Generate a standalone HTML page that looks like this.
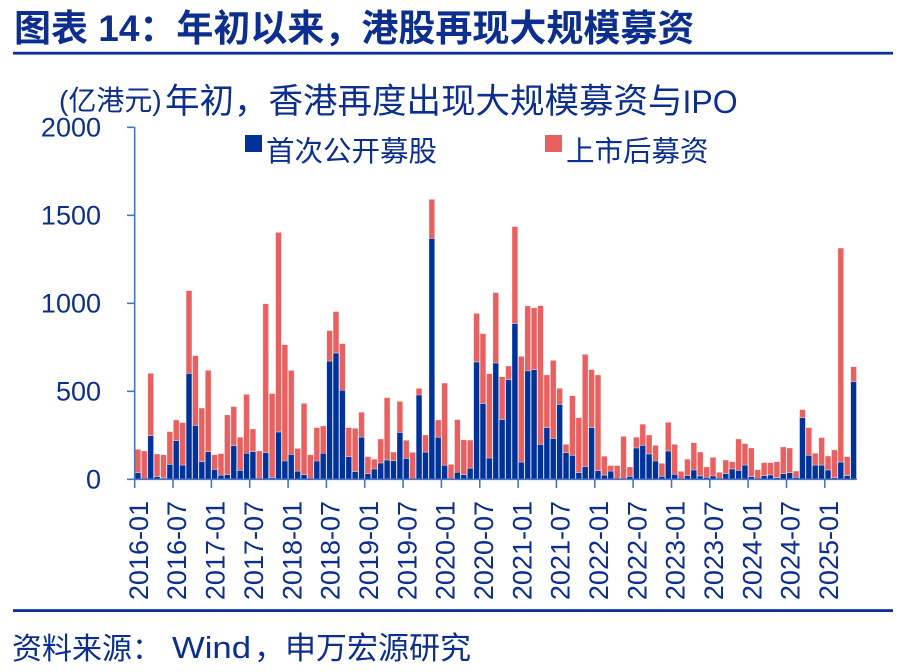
<!DOCTYPE html>
<html><head><meta charset="utf-8"><style>
html,body{margin:0;padding:0;background:#fff}
svg{display:block}
text{font-family:"Liberation Sans","Noto Sans CJK SC",sans-serif;fill:#0c2f8f}
.b{fill:#00329a}
.r{fill:#e86160}
.bars rect{stroke:#fff;stroke-opacity:.55;stroke-width:.6;vector-effect:non-scaling-stroke}
</style></head><body>
<svg width="906" height="672" viewBox="0 0 906 672" xmlns="http://www.w3.org/2000/svg">
<rect width="906" height="672" fill="#fff"/>
<text x="14" y="41" font-size="37" font-weight="bold">图表 14：年初以来，港股再现大规模募资</text>
<rect x="13" y="51.8" width="880" height="2.8" fill="#0a3296"/>
<text x="59" y="110" font-size="28">(亿港元)</text>
<text x="165" y="113" font-size="34.5">年初，香港再度出现大规模募资与<tspan font-size="32">IPO</tspan></text>
<rect x="245" y="135" width="17" height="17" fill="#00329a"/>
<text x="266" y="161" font-size="28.5">首次公开募股</text>
<rect x="545" y="135" width="17" height="17" fill="#e86160"/>
<text x="566" y="161" font-size="28.5">上市后募资</text>
<g font-size="27" text-anchor="end">
<text x="101" y="136.3">2000</text>
<text x="101" y="224.3">1500</text>
<text x="101" y="312.3">1000</text>
<text x="101" y="400.3">500</text>
<text x="101" y="488.3">0</text>
</g>
<g class="bars" transform="translate(135,479.3) scale(6.39,-0.176)">
<rect class="b" x="0" y="0" width=".908" height="38"/><rect class="r" x="0" y="38" width=".908" height="132"/>
<rect class="b" x="1" y="0" width=".908" height="2"/><rect class="r" x="1" y="2" width=".908" height="159"/>
<rect class="b" x="2" y="0" width=".908" height="248"/><rect class="r" x="2" y="248" width=".908" height="354"/>
<rect class="b" x="3" y="0" width=".908" height="15"/><rect class="r" x="3" y="15" width=".908" height="129"/>
<rect class="b" x="4" y="0" width=".908" height="8"/><rect class="r" x="4" y="8" width=".908" height="132"/>
<rect class="b" x="5" y="0" width=".908" height="85"/><rect class="r" x="5" y="85" width=".908" height="186"/>
<rect class="b" x="6" y="0" width=".908" height="220"/><rect class="r" x="6" y="220" width=".908" height="117"/>
<rect class="b" x="7" y="0" width=".908" height="81"/><rect class="r" x="7" y="81" width=".908" height="241"/>
<rect class="b" x="8" y="0" width=".908" height="602"/><rect class="r" x="8" y="602" width=".908" height="470"/>
<rect class="b" x="9" y="0" width=".908" height="307"/><rect class="r" x="9" y="307" width=".908" height="396"/>
<rect class="b" x="10" y="0" width=".908" height="100"/><rect class="r" x="10" y="100" width=".908" height="305"/>
<rect class="b" x="11" y="0" width=".908" height="157"/><rect class="r" x="11" y="157" width=".908" height="462"/>
<rect class="b" x="12" y="0" width=".908" height="57"/><rect class="r" x="12" y="57" width=".908" height="83"/>
<rect class="b" x="13" y="0" width=".908" height="23"/><rect class="r" x="13" y="23" width=".908" height="123"/>
<rect class="b" x="14" y="0" width=".908" height="27"/><rect class="r" x="14" y="27" width=".908" height="339"/>
<rect class="b" x="15" y="0" width=".908" height="191"/><rect class="r" x="15" y="191" width=".908" height="222"/>
<rect class="b" x="16" y="0" width=".908" height="51"/><rect class="r" x="16" y="51" width=".908" height="188"/>
<rect class="b" x="17" y="0" width=".908" height="148"/><rect class="r" x="17" y="148" width=".908" height="335"/>
<rect class="b" x="18" y="0" width=".908" height="157"/><rect class="r" x="18" y="157" width=".908" height="129"/>
<rect class="r" x="19" y="0" width=".908" height="161"/>
<rect class="b" x="20" y="0" width=".908" height="152"/><rect class="r" x="20" y="152" width=".908" height="846"/>
<rect class="b" x="21" y="0" width=".908" height="10"/><rect class="r" x="21" y="10" width=".908" height="477"/>
<rect class="b" x="22" y="0" width=".908" height="269"/><rect class="r" x="22" y="269" width=".908" height="1134"/>
<rect class="b" x="23" y="0" width=".908" height="104"/><rect class="r" x="23" y="104" width=".908" height="661"/>
<rect class="b" x="24" y="0" width=".908" height="142"/><rect class="r" x="24" y="142" width=".908" height="477"/>
<rect class="b" x="25" y="0" width=".908" height="47"/><rect class="r" x="25" y="47" width=".908" height="129"/>
<rect class="b" x="26" y="0" width=".908" height="27"/><rect class="r" x="26" y="27" width=".908" height="405"/>
<rect class="r" x="27" y="0" width=".908" height="140"/>
<rect class="b" x="28" y="0" width=".908" height="104"/><rect class="r" x="28" y="104" width=".908" height="190"/>
<rect class="b" x="29" y="0" width=".908" height="148"/><rect class="r" x="29" y="148" width=".908" height="155"/>
<rect class="b" x="30" y="0" width=".908" height="672"/><rect class="r" x="30" y="672" width=".908" height="173"/>
<rect class="b" x="31" y="0" width=".908" height="718"/><rect class="r" x="31" y="718" width=".908" height="235"/>
<rect class="b" x="32" y="0" width=".908" height="506"/><rect class="r" x="32" y="506" width=".908" height="265"/>
<rect class="b" x="33" y="0" width=".908" height="129"/><rect class="r" x="33" y="129" width=".908" height="165"/>
<rect class="b" x="34" y="0" width=".908" height="44"/><rect class="r" x="34" y="44" width=".908" height="246"/>
<rect class="b" x="35" y="0" width=".908" height="240"/><rect class="r" x="35" y="240" width=".908" height="141"/>
<rect class="b" x="36" y="0" width=".908" height="32"/><rect class="r" x="36" y="32" width=".908" height="97"/>
<rect class="b" x="37" y="0" width=".908" height="59"/><rect class="r" x="37" y="59" width=".908" height="55"/>
<rect class="b" x="38" y="0" width=".908" height="93"/><rect class="r" x="38" y="93" width=".908" height="136"/>
<rect class="b" x="39" y="0" width=".908" height="110"/><rect class="r" x="39" y="110" width=".908" height="354"/>
<rect class="b" x="40" y="0" width=".908" height="106"/><rect class="r" x="40" y="106" width=".908" height="49"/>
<rect class="b" x="41" y="0" width=".908" height="267"/><rect class="r" x="41" y="267" width=".908" height="176"/>
<rect class="b" x="42" y="0" width=".908" height="119"/><rect class="r" x="42" y="119" width=".908" height="103"/>
<rect class="r" x="43" y="0" width=".908" height="153"/>
<rect class="b" x="44" y="0" width=".908" height="479"/><rect class="r" x="44" y="479" width=".908" height="38"/>
<rect class="b" x="45" y="0" width=".908" height="155"/><rect class="r" x="45" y="155" width=".908" height="97"/>
<rect class="b" x="46" y="0" width=".908" height="1369"/><rect class="r" x="46" y="1369" width=".908" height="222"/>
<rect class="b" x="47" y="0" width=".908" height="239"/><rect class="r" x="47" y="239" width=".908" height="98"/>
<rect class="b" x="48" y="0" width=".908" height="80"/><rect class="r" x="48" y="80" width=".908" height="467"/>
<rect class="r" x="49" y="0" width=".908" height="85"/>
<rect class="b" x="50" y="0" width=".908" height="40"/><rect class="r" x="50" y="40" width=".908" height="299"/>
<rect class="b" x="51" y="0" width=".908" height="27"/><rect class="r" x="51" y="27" width=".908" height="198"/>
<rect class="b" x="52" y="0" width=".908" height="63"/><rect class="r" x="52" y="63" width=".908" height="160"/>
<rect class="b" x="53" y="0" width=".908" height="667"/><rect class="r" x="53" y="667" width=".908" height="276"/>
<rect class="b" x="54" y="0" width=".908" height="430"/><rect class="r" x="54" y="430" width=".908" height="398"/>
<rect class="b" x="55" y="0" width=".908" height="121"/><rect class="r" x="55" y="121" width=".908" height="479"/>
<rect class="b" x="56" y="0" width=".908" height="661"/><rect class="r" x="56" y="661" width=".908" height="400"/>
<rect class="b" x="57" y="0" width=".908" height="339"/><rect class="r" x="57" y="339" width=".908" height="244"/>
<rect class="b" x="58" y="0" width=".908" height="566"/><rect class="r" x="58" y="566" width=".908" height="78"/>
<rect class="b" x="59" y="0" width=".908" height="885"/><rect class="r" x="59" y="885" width=".908" height="551"/>
<rect class="b" x="60" y="0" width=".908" height="98"/><rect class="r" x="60" y="98" width=".908" height="601"/>
<rect class="b" x="61" y="0" width=".908" height="616"/><rect class="r" x="61" y="616" width=".908" height="369"/>
<rect class="b" x="62" y="0" width=".908" height="623"/><rect class="r" x="62" y="623" width=".908" height="351"/>
<rect class="b" x="63" y="0" width=".908" height="199"/><rect class="r" x="63" y="199" width=".908" height="788"/>
<rect class="b" x="64" y="0" width=".908" height="294"/><rect class="r" x="64" y="294" width=".908" height="299"/>
<rect class="b" x="65" y="0" width=".908" height="233"/><rect class="r" x="65" y="233" width=".908" height="443"/>
<rect class="b" x="66" y="0" width=".908" height="426"/><rect class="r" x="66" y="426" width=".908" height="91"/>
<rect class="b" x="67" y="0" width=".908" height="152"/><rect class="r" x="67" y="152" width=".908" height="47"/>
<rect class="b" x="68" y="0" width=".908" height="136"/><rect class="r" x="68" y="136" width=".908" height="339"/>
<rect class="b" x="69" y="0" width=".908" height="38"/><rect class="r" x="69" y="38" width=".908" height="312"/>
<rect class="b" x="70" y="0" width=".908" height="72"/><rect class="r" x="70" y="72" width=".908" height="638"/>
<rect class="b" x="71" y="0" width=".908" height="294"/><rect class="r" x="71" y="294" width=".908" height="329"/>
<rect class="b" x="72" y="0" width=".908" height="49"/><rect class="r" x="72" y="49" width=".908" height="544"/>
<rect class="b" x="73" y="0" width=".908" height="24"/><rect class="r" x="73" y="24" width=".908" height="107"/>
<rect class="b" x="74" y="0" width=".908" height="47"/><rect class="r" x="74" y="47" width=".908" height="31"/>
<rect class="r" x="75" y="0" width=".908" height="78"/>
<rect class="r" x="76" y="0" width=".908" height="244"/>
<rect class="b" x="77" y="0" width=".908" height="17"/><rect class="r" x="77" y="17" width=".908" height="53"/>
<rect class="b" x="78" y="0" width=".908" height="178"/><rect class="r" x="78" y="178" width=".908" height="61"/>
<rect class="b" x="79" y="0" width=".908" height="193"/><rect class="r" x="79" y="193" width=".908" height="120"/>
<rect class="b" x="80" y="0" width=".908" height="144"/><rect class="r" x="80" y="144" width=".908" height="108"/>
<rect class="b" x="81" y="0" width=".908" height="104"/><rect class="r" x="81" y="104" width=".908" height="89"/>
<rect class="b" x="82" y="0" width=".908" height="17"/><rect class="r" x="82" y="17" width=".908" height="74"/>
<rect class="b" x="83" y="0" width=".908" height="161"/><rect class="r" x="83" y="161" width=".908" height="163"/>
<rect class="b" x="84" y="0" width=".908" height="28"/><rect class="r" x="84" y="28" width=".908" height="171"/>
<rect class="r" x="85" y="0" width=".908" height="45"/>
<rect class="b" x="86" y="0" width=".908" height="21"/><rect class="r" x="86" y="21" width=".908" height="93"/>
<rect class="b" x="87" y="0" width=".908" height="53"/><rect class="r" x="87" y="53" width=".908" height="155"/>
<rect class="b" x="88" y="0" width=".908" height="19"/><rect class="r" x="88" y="19" width=".908" height="136"/>
<rect class="b" x="89" y="0" width=".908" height="11"/><rect class="r" x="89" y="11" width=".908" height="59"/>
<rect class="b" x="90" y="0" width=".908" height="19"/><rect class="r" x="90" y="19" width=".908" height="106"/>
<rect class="r" x="91" y="0" width=".908" height="40"/>
<rect class="b" x="92" y="0" width=".908" height="32"/><rect class="r" x="92" y="32" width=".908" height="78"/>
<rect class="b" x="93" y="0" width=".908" height="59"/><rect class="r" x="93" y="59" width=".908" height="41"/>
<rect class="b" x="94" y="0" width=".908" height="51"/><rect class="r" x="94" y="51" width=".908" height="178"/>
<rect class="b" x="95" y="0" width=".908" height="81"/><rect class="r" x="95" y="81" width=".908" height="122"/>
<rect class="b" x="96" y="0" width=".908" height="15"/><rect class="r" x="96" y="15" width=".908" height="163"/>
<rect class="r" x="97" y="0" width=".908" height="55"/>
<rect class="b" x="98" y="0" width=".908" height="21"/><rect class="r" x="98" y="21" width=".908" height="74"/>
<rect class="b" x="99" y="0" width=".908" height="25"/><rect class="r" x="99" y="25" width=".908" height="70"/>
<rect class="b" x="100" y="0" width=".908" height="9"/><rect class="r" x="100" y="9" width=".908" height="91"/>
<rect class="b" x="101" y="0" width=".908" height="32"/><rect class="r" x="101" y="32" width=".908" height="152"/>
<rect class="b" x="102" y="0" width=".908" height="38"/><rect class="r" x="102" y="38" width=".908" height="140"/>
<rect class="b" x="103" y="0" width=".908" height="11"/><rect class="r" x="103" y="11" width=".908" height="36"/>
<rect class="b" x="104" y="0" width=".908" height="350"/><rect class="r" x="104" y="350" width=".908" height="46"/>
<rect class="b" x="105" y="0" width=".908" height="136"/><rect class="r" x="105" y="136" width=".908" height="158"/>
<rect class="b" x="106" y="0" width=".908" height="81"/><rect class="r" x="106" y="81" width=".908" height="67"/>
<rect class="b" x="107" y="0" width=".908" height="81"/><rect class="r" x="107" y="81" width=".908" height="156"/>
<rect class="b" x="108" y="0" width=".908" height="53"/><rect class="r" x="108" y="53" width=".908" height="80"/>
<rect class="b" x="109" y="0" width=".908" height="9"/><rect class="r" x="109" y="9" width=".908" height="158"/>
<rect class="b" x="110" y="0" width=".908" height="98"/><rect class="r" x="110" y="98" width=".908" height="1216"/>
<rect class="b" x="111" y="0" width=".908" height="21"/><rect class="r" x="111" y="21" width=".908" height="108"/>
<rect class="b" x="112" y="0" width=".908" height="555"/><rect class="r" x="112" y="555" width=".908" height="85"/>
</g>
<g stroke="#4a74c8" stroke-width="1.6" fill="none">
<path d="M134.7 127 V480.1"/>
<path d="M127 127.3 H134.7 M127 215.3 H134.7 M127 303.3 H134.7 M127 391.3 H134.7"/>
<path d="M127 479.3 H857"/>
<path d="M134.7 479.3 V488 M173 479.3 V488 M211.4 479.3 V488 M249.7 479.3 V488 M288.1 479.3 V488 M326.4 479.3 V488 M364.7 479.3 V488 M403.1 479.3 V488 M441.4 479.3 V488 M479.8 479.3 V488 M518.1 479.3 V488 M556.4 479.3 V488 M594.8 479.3 V488 M633.1 479.3 V488 M671.5 479.3 V488 M709.8 479.3 V488 M748.1 479.3 V488 M786.5 479.3 V488 M824.8 479.3 V488"/>
</g>
<g font-size="27" text-anchor="end">
<text transform="translate(147.9,501) rotate(-90)">2016-01</text>
<text transform="translate(186.2,501) rotate(-90)">2016-07</text>
<text transform="translate(224.6,501) rotate(-90)">2017-01</text>
<text transform="translate(262.9,501) rotate(-90)">2017-07</text>
<text transform="translate(301.3,501) rotate(-90)">2018-01</text>
<text transform="translate(339.6,501) rotate(-90)">2018-07</text>
<text transform="translate(377.9,501) rotate(-90)">2019-01</text>
<text transform="translate(416.3,501) rotate(-90)">2019-07</text>
<text transform="translate(454.6,501) rotate(-90)">2020-01</text>
<text transform="translate(493,501) rotate(-90)">2020-07</text>
<text transform="translate(531.3,501) rotate(-90)">2021-01</text>
<text transform="translate(569.6,501) rotate(-90)">2021-07</text>
<text transform="translate(608,501) rotate(-90)">2022-01</text>
<text transform="translate(646.3,501) rotate(-90)">2022-07</text>
<text transform="translate(684.7,501) rotate(-90)">2023-01</text>
<text transform="translate(723,501) rotate(-90)">2023-07</text>
<text transform="translate(761.3,501) rotate(-90)">2024-01</text>
<text transform="translate(799.7,501) rotate(-90)">2024-07</text>
<text transform="translate(838,501) rotate(-90)">2025-01</text>
</g>
<rect x="13" y="609.2" width="880" height="2.8" fill="#0a3296"/>
<text x="12" y="659" font-size="30">资料来源：</text>
<text x="172" y="658" font-size="31" textLength="79" lengthAdjust="spacingAndGlyphs">Wind</text>
<text x="254" y="659" font-size="31">，申万宏源研究</text>
</svg>
</body></html>
